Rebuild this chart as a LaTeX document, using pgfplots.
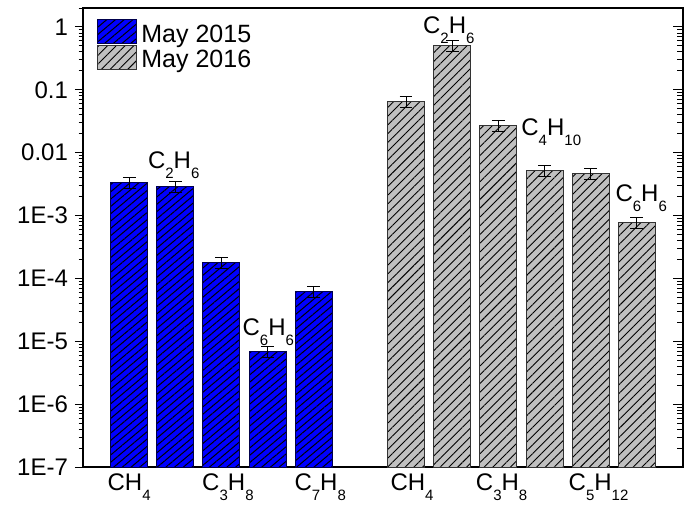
\documentclass[border=0pt]{standalone}
\usepackage{fontspec}
\setmainfont{Liberation Sans}
\usepackage{pgfplots}
\usepackage{pgfplotstable}
\pgfplotsset{compat=1.18}
\usetikzlibrary{patterns.meta}

\definecolor{barblue}{RGB}{0,0,255}
\definecolor{bargray}{RGB}{192,192,192}
\newcommand{\sub}[1]{\raisebox{-5pt}{\fontsize{7.5}{8}\selectfont #1}}

\pgfplotstableread{
x y
0 3.34e-3
1 2.90e-3
2 1.78e-4
3 6.9e-6
4 6.15e-5
}\tblue

\pgfplotstableread{
x y
6 0.0653
7 0.51
8 0.0275
9 5.3e-3
10 4.6e-3
11 7.8e-4
}\tgray

\pgfplotsset{
  myminor/.style={minor ytick={2e-7,3e-7,4e-7,5e-7,6e-7,7e-7,8e-7,9e-7,
    2e-6,3e-6,4e-6,5e-6,6e-6,7e-6,8e-6,9e-6,
    2e-5,3e-5,4e-5,5e-5,6e-5,7e-5,8e-5,9e-5,
    2e-4,3e-4,4e-4,5e-4,6e-4,7e-4,8e-4,9e-4,
    2e-3,3e-3,4e-3,5e-3,6e-3,7e-3,8e-3,9e-3,
    2e-2,3e-2,4e-2,5e-2,6e-2,7e-2,8e-2,9e-2,
    2e-1,3e-1,4e-1,5e-1,6e-1,7e-1,8e-1,9e-1,2}},
}

\begin{document}
\begin{tikzpicture}
\begin{axis}[
  name=main,
  scale only axis, width=300pt, height=229.5pt,
  ymode=log, ymin=1e-7, ymax=2, log origin=infty,
  xmin=-1, xmax=12,
  ybar, bar width=18.5pt,
  xtick={0,2.14,4.14,6.13,8.07,10.17},
  xticklabels={CH\sub{4}, C\sub{3}H\sub{8}, C\sub{7}H\sub{8}, CH\sub{4}, C\sub{3}H\sub{8}, C\sub{5}H\sub{12}},
  x tick style={draw=none},
  xtick pos=bottom,
  ytick={1e-7,1e-6,1e-5,1e-4,1e-3,1e-2,1e-1,1},
  yticklabels={1E-7,1E-6,1E-5,1E-4,1E-3,0.01,0.1,1},
  myminor,
  ytick pos=left, tick align=outside,
  major tick length=4pt, minor tick length=2.2pt,
  y tick style={black, line width=0.5pt},
  axis line style={black, line width=0.8pt},
  /pgf/number format/assume math mode=true,
  yticklabel style={font=\fontsize{12}{14}\selectfont},
  xticklabel style={font=\fontsize{12}{14}\selectfont, yshift=4pt},
  legend image code/.code={\draw[#1] (0pt,-4.5pt) rectangle (19.5pt,7.5pt);},
  legend style={draw=none, fill=none, at={(0,1)}, anchor=north west, xshift=7pt, yshift=-5.5pt,
    font=\fontsize{12.5}{14}\selectfont, inner sep=0pt, row sep=-2pt,
    /tikz/every even column/.append style={column sep=2pt}},
  legend cell align=left,
]
\addplot[fill=barblue, draw=black!70!blue, line width=0.5pt, bar shift=0pt,
  postaction={pattern={Lines[angle=40,distance=2.8pt,line width=0.5pt]}, pattern color=black},
  error bars/.cd, y dir=both, y explicit relative,
  error mark options={rotate=90, mark size=3.2pt, black, line width=0.5pt},
  error bar style={black, line width=0.5pt}]
  table[x=x, y=y, y error expr=0.2] {\tblue};
\addlegendentry{May 2015}
\addplot[fill=bargray, draw=black!80, line width=0.5pt, bar shift=0pt,
  postaction={pattern={Lines[angle=45,distance=3.1pt,line width=0.45pt]}, pattern color=black},
  error bars/.cd, y dir=both, y explicit relative,
  error mark options={rotate=90, mark size=3.2pt, black, line width=0.5pt},
  error bar style={black, line width=0.5pt}]
  table[x=x, y=y, y error expr=0.2] {\tgray};
\addlegendentry{May 2016}

\tikzset{lab/.style={font=\fontsize{12}{14}\selectfont, anchor=base west, inner sep=0pt}}
\node[lab] at (axis cs:0.40,5.57e-3) {C\sub{2}H\sub{6}};
\node[lab] at (axis cs:2.45,1.245e-5) {C\sub{6}H\sub{6}};
\node[lab] at (axis cs:6.36,0.774) {C\sub{2}H\sub{6}};
\node[lab] at (axis cs:8.49,0.0186) {C\sub{4}H\sub{10}};
\node[lab] at (axis cs:10.53,1.67e-3) {C\sub{6}H\sub{6}};
\end{axis}
\begin{axis}[
  scale only axis, width=300pt, height=229.5pt,
  ymode=log, ymin=1e-7, ymax=2,
  xmin=-1, xmax=12,
  axis line style={draw=none},
  xtick=\empty,
  ytick={1e-7,1e-6,1e-5,1e-4,1e-3,1e-2,1e-1,1},
  yticklabels={},
  myminor,
  ytick pos=right, tick align=inside,
  major tick length=5pt, minor tick length=3pt,
  y tick style={black, line width=0.5pt},
]
\end{axis}
\pgfresetboundingbox
\path[use as bounding box] ([shift={(-41.5pt,-18.5pt)}]main.south west) rectangle ([shift={(6.5pt,4pt)}]main.north east);
\end{tikzpicture}
\end{document}
